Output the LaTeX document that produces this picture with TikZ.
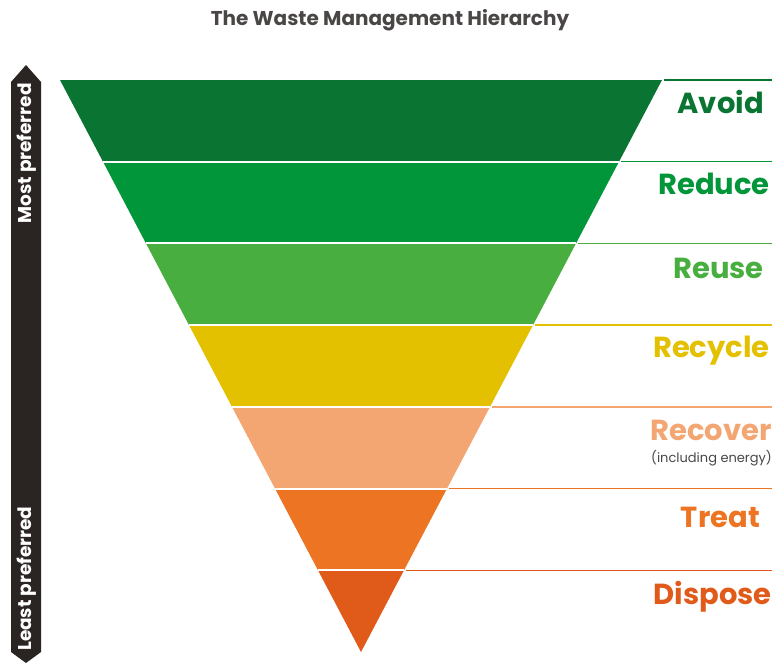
\documentclass[tikz,border=0pt]{standalone}
\usepackage{fontspec}
\setmainfont{Poppins}
\usetikzlibrary{calc}

\definecolor{avoidc}{HTML}{0A7533}
\definecolor{reducec}{HTML}{02963A}
\definecolor{reusec}{HTML}{48AE3F}
\definecolor{recyclec}{HTML}{E3C100}
\definecolor{recoverc}{HTML}{F4A672}
\definecolor{treatc}{HTML}{EC7423}
\definecolor{disposec}{HTML}{E05A1A}
\definecolor{titlec}{HTML}{4A4646}
\definecolor{barc}{HTML}{2A2523}

\begin{document}
\begin{tikzpicture}[x=1pt,y=-1pt,
		gap/.style={draw=white,line width=2pt},
		rule/.style={line width=1.3pt},
		level/.style={anchor=base east,inner sep=0pt,font=\fontsize{29}{29}\selectfont\bfseries},
		side/.style={rotate=90,inner sep=0pt,text=white,font=\fontsize{18.5}{18.5}\selectfont\bfseries}]
		
		\useasboundingbox (0,0) rectangle (775,662);
		
		% outline of the inverted triangle
		\coordinate (TopL) at (60,80);
		\coordinate (TopR) at (662,80);
		\coordinate (Apex) at (361,652);
		\coordinate (Edge) at (772,80);
		
		\coordinate (L1) at ($(TopL)!1/7!(Apex)$);
		\coordinate (L2) at ($(TopL)!2/7!(Apex)$);
		\coordinate (L3) at ($(TopL)!3/7!(Apex)$);
		\coordinate (L4) at ($(TopL)!4/7!(Apex)$);
		\coordinate (L5) at ($(TopL)!5/7!(Apex)$);
		\coordinate (L6) at ($(TopL)!6/7!(Apex)$);
		\coordinate (R1) at ($(TopR)!1/7!(Apex)$);
		\coordinate (R2) at ($(TopR)!2/7!(Apex)$);
		\coordinate (R3) at ($(TopR)!3/7!(Apex)$);
		\coordinate (R4) at ($(TopR)!4/7!(Apex)$);
		\coordinate (R5) at ($(TopR)!5/7!(Apex)$);
		\coordinate (R6) at ($(TopR)!6/7!(Apex)$);
		
		% bands
		\fill[avoidc] (TopL) -- (TopR) -- (R1) -- (L1) -- cycle;
		\fill[reducec] (L1) -- (R1) -- (R2) -- (L2) -- cycle;
		\fill[reusec] (L2) -- (R2) -- (R3) -- (L3) -- cycle;
		\fill[recyclec] (L3) -- (R3) -- (R4) -- (L4) -- cycle;
		\fill[recoverc] (L4) -- (R4) -- (R5) -- (L5) -- cycle;
		\fill[treatc] (L5) -- (R5) -- (R6) -- (L6) -- cycle;
		\fill[disposec] (L6) -- (R6) -- (Apex) -- cycle;
		\draw[gap] (L1) -- (R1) (L2) -- (R2) (L3) -- (R3)
		(L4) -- (R4) (L5) -- (R5) (L6) -- (R6);
		
		% rules to the labels
		\draw[rule,avoidc] ($(TopR)+(2,0)$) -- (Edge);
		\draw[rule,reducec] ($(R1)+(2,0)$) -- (R1 -| Edge);
		\draw[rule,reusec] ($(R2)+(2,0)$) -- (R2 -| Edge);
		\draw[rule,recyclec] ($(R3)+(2,0)$) -- (R3 -| Edge);
		\draw[rule,recoverc] ($(R4)+(2,0)$) -- (R4 -| Edge);
		\draw[rule,treatc] ($(R5)+(2,0)$) -- (R5 -| Edge);
		\draw[rule,disposec] ($(R6)+(2,0)$) -- (R6 -| Edge);
		
		% labels
		\node[level,text=avoidc] (Avoid) at ($(Edge)+(-8,33)$) {Avoid};
		\node[level,text=reducec] (Reduce) at ($(R1 -| Edge)+(-2,33)$) {Reduce};
		\node[level,text=reusec] (Reuse) at ($(R2 -| Edge)+(-8,35)$) {Reuse};
		\node[level,text=recyclec] (Recycle) at ($(R3 -| Edge)+(-2,32)$) {Recycle};
		\node[level,text=recoverc] (Recover) at ($(R4 -| Edge)+(0,34)$) {Recover};
		\node[anchor=base east,inner sep=0pt,text=titlec,font=\fontsize{13}{13}\selectfont]
		(Energy) at ($(Recover.base east)+(0,22)$) {(including energy)};
		\node[level,text=treatc] (Treat) at ($(R5 -| Edge)+(-12,39)$) {Treat};
		\node[level,text=disposec] (Dispose) at ($(R6 -| Edge)+(0,34)$) {Dispose};
		
		% preference bar
		\fill[barc] (11,82) -- (26,65) -- (41,82) -- (41,652) -- (26,663) -- (11,652) -- cycle;
		\node[side,anchor=east] (Most) at (27,83) {Most preferred};
		\node[side,anchor=west] (Least) at (27,651) {Least preferred};
		
		% title
		\node[text=titlec,font=\fontsize{20}{20}\selectfont\bfseries] (Title) at (390,20) {The Waste Management Hierarchy};
		
	\end{tikzpicture}
\end{document}
